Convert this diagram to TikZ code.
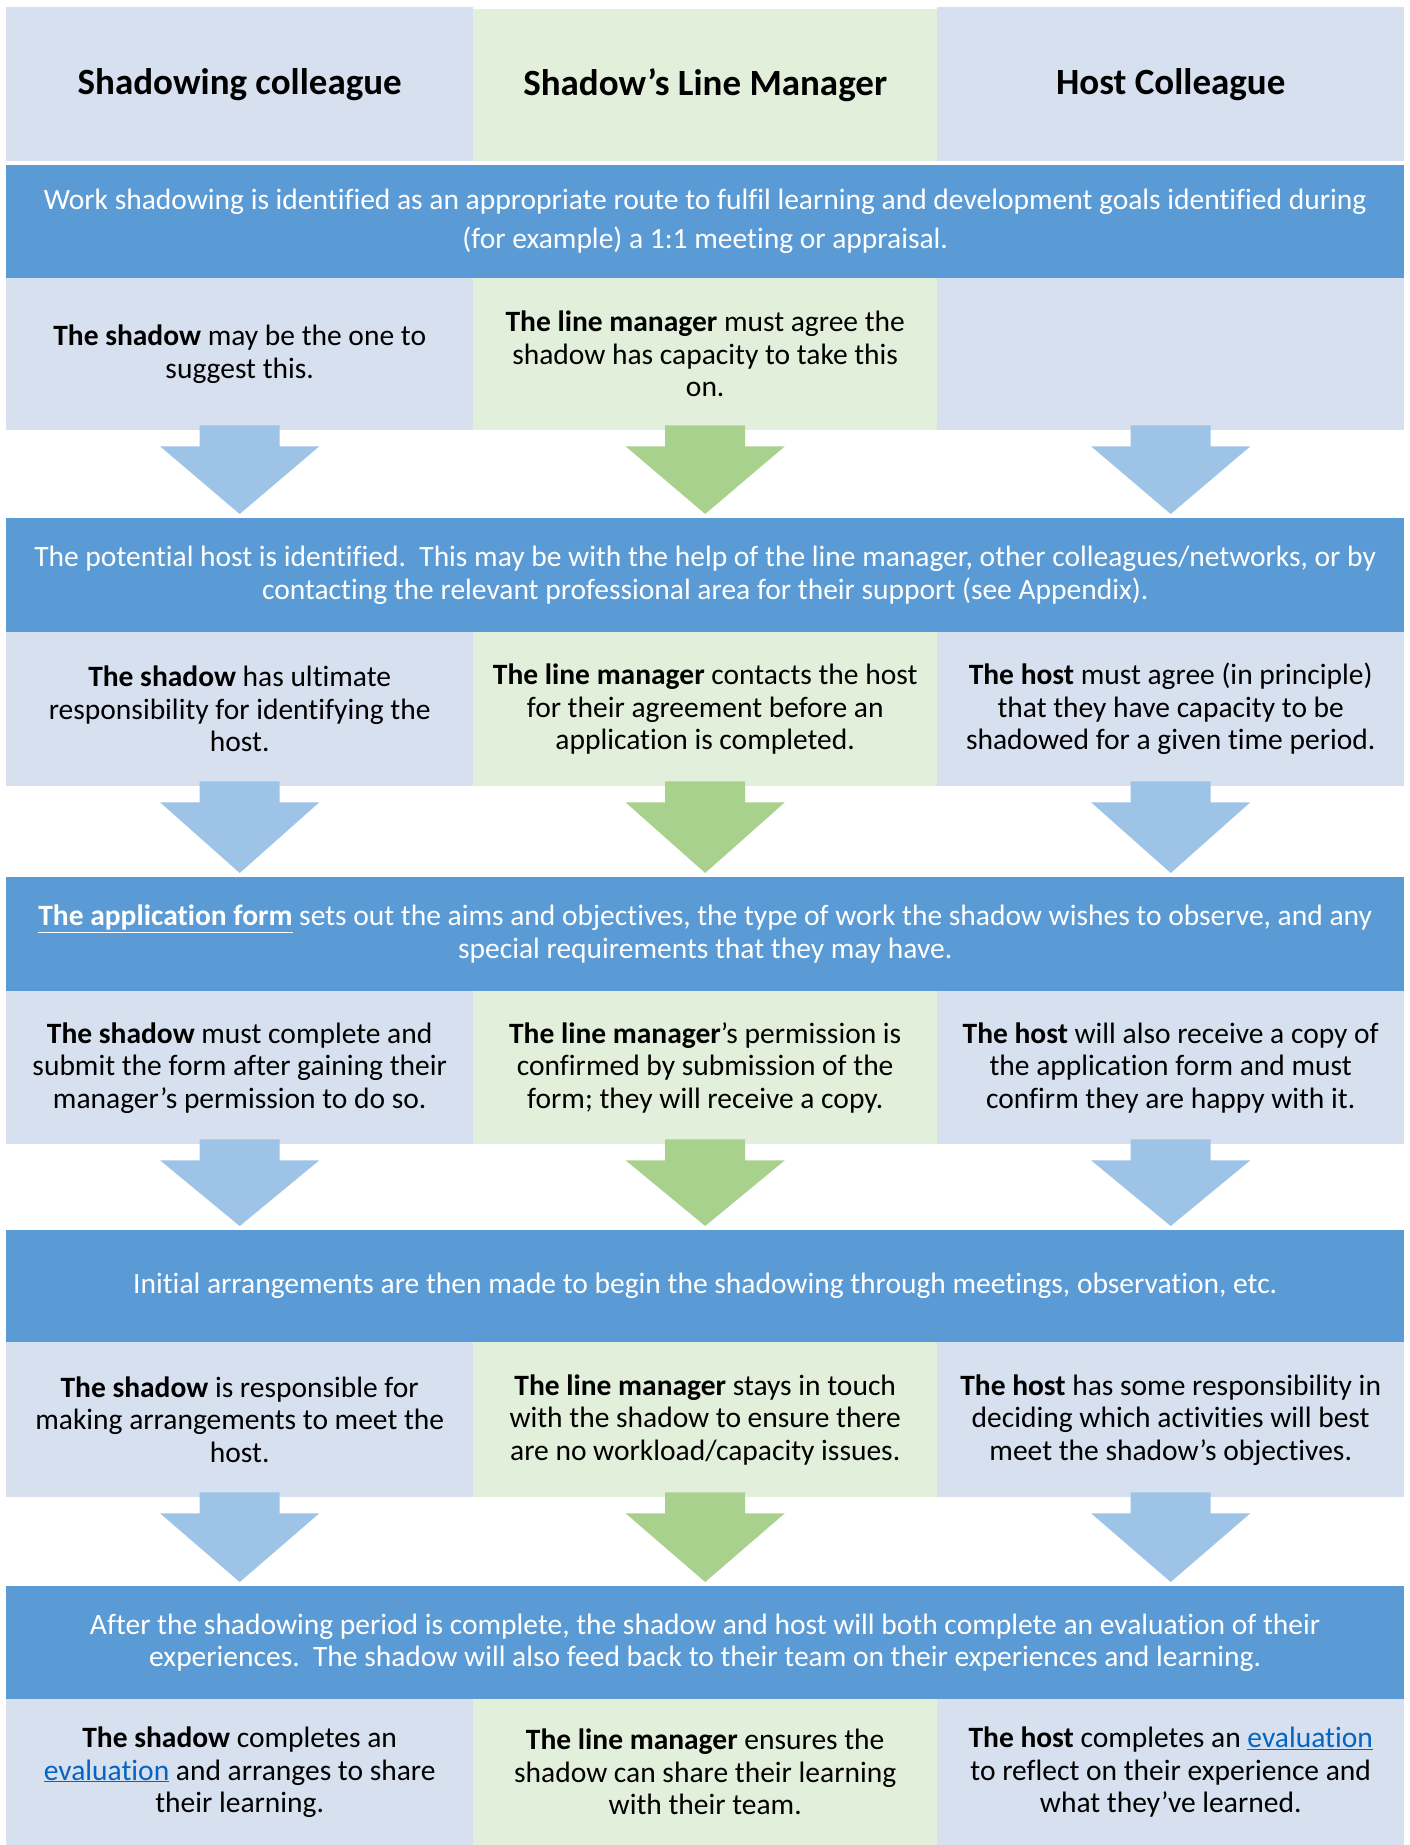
\documentclass[tikz,border=0pt]{standalone}
\usepackage{fontspec}
\setmainfont[Ligatures=NoCommon]{Carlito}
\usepackage{xcolor}
\usetikzlibrary{calc}

\definecolor{paneblue}{HTML}{D6E0EF}
\definecolor{panegreen}{HTML}{E2EFDA}
\definecolor{bandblue}{HTML}{5B9BD5}
\definecolor{arrblue}{HTML}{9DC3E6}
\definecolor{arrgreen}{HTML}{A9D18E}
\definecolor{linkblue}{HTML}{0563C1}

\newcommand{\evlink}[1]{\textcolor{linkblue}{\underline{#1}}}

\begin{document}
\begin{tikzpicture}[x=1pt, y=-1pt,
  every node/.style={inner sep=0pt, align=center, anchor=north west},
  cell/.style={fill=paneblue, minimum width=467pt, text=black, font=\fontsize{29.5}{32.5}\selectfont},
  midcell/.style={cell, fill=panegreen, minimum width=464pt},
  band/.style={fill=bandblue, minimum width=1398pt, text=white, font=\fontsize{29.5}{32.5}\selectfont},
  head/.style={font=\bfseries\fontsize{37}{44}\selectfont}]
\useasboundingbox (0,0) rectangle (1409,1845);

% column headings
\node[cell, head, minimum height=154pt] (hl) at (6,7) {\raisebox{-3pt}{Shadowing colleague}};
\node[midcell, head, minimum height=152pt] (hm) at (473,9) {\raisebox{-3pt}{Shadow’s Line Manager}};
\node[cell, head, minimum height=154pt] (hr) at (937,7) {\raisebox{-3pt}{Host Colleague}};

% step 1
\node[band, minimum height=113pt, font=\fontsize{29.5}{39}\selectfont] (b1) at (6,165)
  {Work shadowing is identified as an appropriate route to fulfil learning and development goals identified during\\(for example) a 1:1 meeting or appraisal.};
\node[cell, minimum height=152pt] (r1l) at (6,278) {\textbf{The shadow} may be the one to\\suggest this.};
\node[midcell, minimum height=152pt] (r1m) at (473,278) {\textbf{The line manager} must agree the\\shadow has capacity to take this\\on.};
\node[cell, minimum height=152pt] (r1r) at (937,278) {};

% step 2
\node[band, minimum height=114pt] (b2) at (6,518)
  {The potential host is identified.\ \ This may be with the help of the line manager, other colleagues/networks, or by\\contacting the relevant professional area for their support (see Appendix).};
\node[cell, minimum height=154pt] (r2l) at (6,632) {\textbf{The shadow} has ultimate\\responsibility for identifying the\\host.};
\node[midcell, minimum height=154pt] (r2m) at (473,632) {\textbf{The line manager} contacts the host\\for their agreement before an\\application is completed.};
\node[cell, minimum height=154pt] (r2r) at (937,632) {\textbf{The host} must agree (in principle)\\that they have capacity to be\\shadowed for a given time period.};

% step 3
\node[band, minimum height=114pt] (b3) at (6,877)
  {\underline{\textbf{The application form}} sets out the aims and objectives, the type of work the shadow wishes to observe, and any\\special requirements that they may have.};
\node[cell, minimum height=153pt] (r3l) at (6,991) {\textbf{The shadow} must complete and\\submit the form after gaining their\\manager’s permission to do so.};
\node[midcell, minimum height=153pt] (r3m) at (473,991) {\textbf{The line manager}’s permission is\\confirmed by submission of the\\form; they will receive a copy.};
\node[cell, minimum height=153pt] (r3r) at (937,991) {\textbf{The host} will also receive a copy of\\the application form and must\\confirm they are happy with it.};

% step 4
\node[band, minimum height=112pt] (b4) at (6,1230)
  {Initial arrangements are then made to begin the shadowing through meetings, observation, etc.};
\node[cell, minimum height=155pt] (r4l) at (6,1342) {\textbf{The shadow} is responsible for\\making arrangements to meet the\\host.};
\node[midcell, minimum height=155pt] (r4m) at (473,1342) {\textbf{The line manager} stays in touch\\with the shadow to ensure there\\are no workload/capacity issues.};
\node[cell, minimum height=155pt] (r4r) at (937,1342) {\textbf{The host} has some responsibility in\\deciding which activities will best\\meet the shadow’s objectives.};

% step 5
\node[band, minimum height=113pt] (b5) at (6,1586)
  {After the shadowing period is complete, the shadow and host will both complete an evaluation of their\\experiences.\ \ The shadow will also feed back to their team on their experiences and learning.};
\node[cell, minimum height=146pt] (r5l) at (6,1699) {\textbf{The shadow} completes an\\\evlink{evaluation} and arranges to share\\their learning.};
\node[midcell, minimum height=146pt] (r5m) at (473,1699) {\textbf{The line manager} ensures the\\shadow can share their learning\\with their team.};
\node[cell, minimum height=146pt] (r5r) at (937,1699) {\textbf{The host} completes an \evlink{evaluation}\\to reflect on their experience and\\what they’ve learned.};

% block arrows between the steps
\foreach \r/\b in {1/2,2/3,3/4,4/5}{
  \foreach \c/\col in {l/arrblue,m/arrgreen,r/arrblue}{
    \path (r\r\c.south) ++(0,-5) coordinate (top)
          ($(r\r\c.south |- b\b.north)+(0,-4)$) coordinate (tip);
    \fill[\col] (top) ++(-40,0) -- ++(80,0) -- ++(0,21) -- ++(39.5,0) -- (tip)
      -- ($(top)+(-79.5,21)$) -- ++(39.5,0) -- cycle;
  }
}
\end{tikzpicture}
\end{document}
